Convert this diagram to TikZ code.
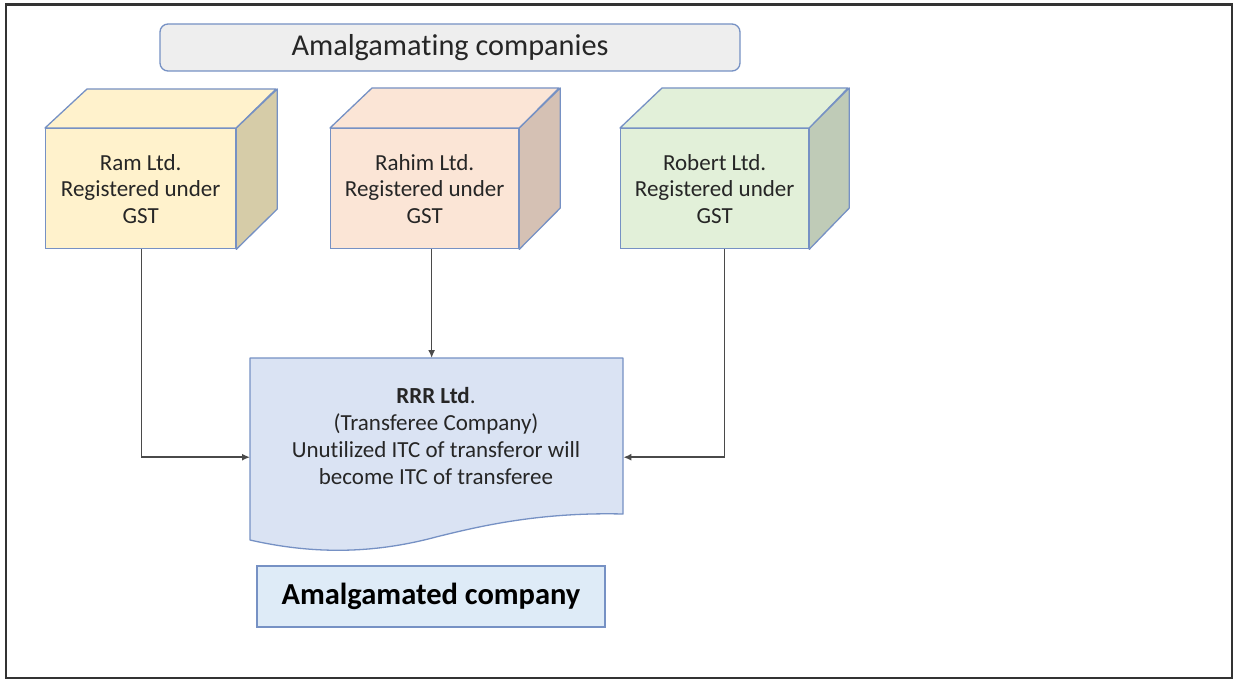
\documentclass[tikz,border=0pt]{standalone}
\usepackage{fontspec}
\setmainfont[Ligatures={NoCommon}]{Carlito}
\usetikzlibrary{arrows.meta}
\definecolor{edgeblue}{HTML}{7691C4}
\definecolor{framegray}{HTML}{333333}
\definecolor{textgray}{HTML}{262626}
\definecolor{linkgray}{HTML}{4A4A4A}
\definecolor{titlefill}{HTML}{EEEEEE}
\definecolor{ramfront}{HTML}{FFF2CC}
\definecolor{ramside}{HTML}{D6CCA8}
\definecolor{rahimfront}{HTML}{FBE5D6}
\definecolor{rahimside}{HTML}{D5C1B4}
\definecolor{robertfront}{HTML}{E2F0D9}
\definecolor{robertside}{HTML}{BFCBB7}
\definecolor{docfill}{HTML}{DAE3F3}
\definecolor{resultfill}{HTML}{DEEBF7}
\tikzset{
  cubeface/.style={draw=edgeblue, line width=1.3pt, anchor=north west,
    minimum width=190, minimum height=120, align=center, text=textgray,
    font=\fontsize{23}{26.5}\selectfont, inner sep=0pt},
  cubepart/.style={draw=edgeblue, line width=1.3pt, line join=round},
  conn/.style={draw=linkgray, line width=1.5pt, -{Latex[length=8pt,width=7pt]}},
  plainlabel/.style={align=center, text=textgray, font=\fontsize{23}{27.3}\selectfont}
}
\begin{document}
\begin{tikzpicture}[x=1pt, y=-1pt]
\useasboundingbox (0,0) rectangle (1233,679);
\fill[white] (0,0) rectangle (1233,679);
% outer frame
\draw[framegray, line width=2pt] (6,5) rectangle (1232,678);
\draw[framegray, line width=3pt] (5,5) -- (1233,5);

% heading
\node[draw=edgeblue, fill=titlefill, rounded corners=8pt, line width=1.3pt,
  minimum width=580, minimum height=47, text=textgray,
  font=\fontsize{30.3}{36}\selectfont] (title) at (450,47.5) {Amalgamating companies};

% company boxes (front face, top and side)
\node[cubeface, fill=ramfront, minimum width=190] (ram) at (45,128) {Ram Ltd.\\Registered under\\GST};
\filldraw[cubepart, fill=ramfront] (ram.north west) -- ++(42,-39) -- ++(189,0) -- (ram.north east) -- cycle;
\filldraw[cubepart, fill=ramside] (ram.north east) -- ++(41,-39) -- ++(0,120) -- (ram.south east) -- cycle;

\node[cubeface, fill=rahimfront, minimum width=188] (rahim) at (330,128) {Rahim Ltd.\\Registered under\\GST};
\filldraw[cubepart, fill=rahimfront] (rahim.north west) -- ++(42,-40) -- ++(187,0) -- (rahim.north east) -- cycle;
\filldraw[cubepart, fill=rahimside] (rahim.north east) -- ++(41,-40) -- ++(0,120) -- (rahim.south east) -- cycle;

\node[cubeface, fill=robertfront, minimum width=188] (robert) at (620,128) {Robert Ltd.\\Registered under\\GST};
\filldraw[cubepart, fill=robertfront] (robert.north west) -- ++(42,-40) -- ++(186,0) -- (robert.north east) -- cycle;
\filldraw[cubepart, fill=robertside] (robert.north east) -- ++(40,-40) -- ++(0,120) -- (robert.south east) -- cycle;

% transferee document shape
\filldraw[draw=edgeblue, fill=docfill, line width=1.3pt, line join=round]
  (250,358) -- (623,358) -- (623,514)
  .. controls (540,512) and (480,526) .. (436,537)
  .. controls (380,552) and (320,556) .. (250,540) -- cycle;
\node[minimum width=373, minimum height=198, anchor=north west, inner sep=0pt] (rrr) at (250,358) {};
\node[plainlabel] (rrrtext) at (436,436)
  {\textbf{RRR Ltd}.\\(Transferee Company)\\Unutilized ITC of transferor will\\become ITC of transferee};

% result label
\node[draw=edgeblue, fill=resultfill, line width=1.3pt, minimum width=348, minimum height=61,
  text=black, font=\fontsize{30.5}{36}\selectfont\bfseries] (result) at (431,596.5) {Amalgamated company};

% connectors
\draw[conn] ([xshift=1]ram.south) |- (rrr.west);
\draw[conn] ([xshift=7]rahim.south) -- ([xshift=7]rahim.south |- rrr.north);
\draw[conn] ([xshift=10]robert.south) |- (rrr.east);
\end{tikzpicture}
\end{document}
